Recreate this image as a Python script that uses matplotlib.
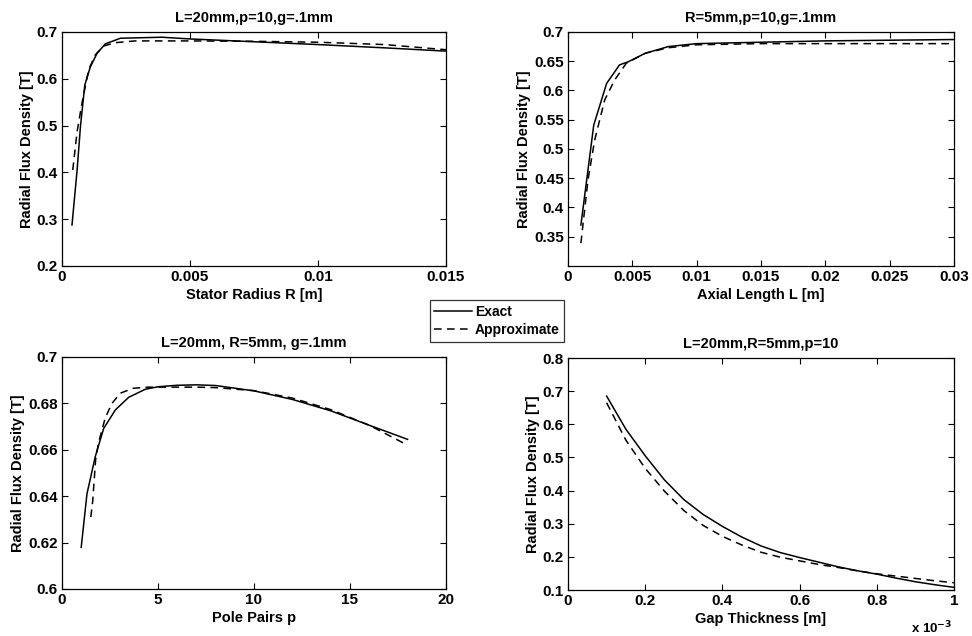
import matplotlib
matplotlib.use("Agg")
import matplotlib.pyplot as plt
from matplotlib.ticker import FuncFormatter

plt.rcParams["font.family"] = ["Liberation Sans", "DejaVu Sans"]
plt.rcParams["font.weight"] = "bold"

# ── Stator radius sweep (L=20mm, p=10, g=.1mm) ───────────────────────────────
r_exact = [0.00039, 0.00059, 0.00072, 0.00089, 0.00111, 0.00137, 0.00169,
           0.00228, 0.0039, 0.005, 0.0075, 0.01, 0.0126, 0.015]
b_r_exact = [0.2876, 0.405, 0.4977, 0.5868, 0.6259, 0.6544, 0.6744,
             0.6865, 0.6887, 0.685, 0.679, 0.673, 0.666, 0.659]
r_approx = [0.00042, 0.00059, 0.00078, 0.00104, 0.0013, 0.00163, 0.00208,
            0.00286, 0.005, 0.0075, 0.01, 0.0126, 0.015]
b_r_approx = [0.405, 0.487, 0.548, 0.619, 0.651, 0.670, 0.677,
              0.6808, 0.6808, 0.680, 0.678, 0.673, 0.662]

# ── Axial length sweep (R=5mm, p=10, g=.1mm) ─────────────────────────────────
l_exact = [0.001, 0.002, 0.003, 0.004, 0.0047, 0.006, 0.0078, 0.01, 0.015,
           0.02, 0.03]
b_l_exact = [0.370, 0.541, 0.612, 0.6436, 0.6492, 0.6635, 0.675, 0.680,
             0.6824, 0.6847, 0.687]
l_approx = [0.001, 0.00155, 0.00207, 0.00285, 0.00363, 0.00453, 0.006,
            0.0078, 0.01, 0.015, 0.02, 0.03]
b_l_approx = [0.339, 0.447, 0.515, 0.5838, 0.618, 0.6465, 0.6635, 0.673,
              0.678, 0.680, 0.680, 0.680]

# ── Pole pairs sweep (L=20mm, R=5mm, g=.1mm) ─────────────────────────────────
p_exact = [1, 1.3, 1.73, 2.17, 2.78, 3.47, 4.34, 5.03, 6, 7, 8, 10, 12, 14,
           16, 18]
b_p_exact = [0.618, 0.641, 0.657, 0.6692, 0.6772, 0.6826, 0.6861, 0.6872,
             0.6878, 0.688, 0.6877, 0.6854, 0.6817, 0.6768, 0.6706, 0.6645]
p_approx = [1.5, 1.6, 1.75, 1.9, 2.25, 2.6, 3.04, 3.7, 4.5, 5, 6, 7, 8, 10,
            12, 14, 16, 18]
b_p_approx = [0.631, 0.638, 0.6556, 0.663, 0.6737, 0.680, 0.6844, 0.6865,
              0.687, 0.687, 0.687, 0.687, 0.6868, 0.6855, 0.6823, 0.6773,
              0.6706, 0.662]

# ── Gap thickness sweep (L=20mm, R=5mm, p=10) ────────────────────────────────
g_vals = [0.1e-3, 0.15e-3, 0.2e-3, 0.25e-3, 0.3e-3, 0.35e-3, 0.4e-3, 0.45e-3,
          0.5e-3, 0.55e-3, 0.6e-3, 0.65e-3, 0.7e-3, 0.75e-3, 0.8e-3, 0.85e-3,
          0.9e-3, 0.95e-3, 1.0e-3]
b_g_exact = [0.685, 0.585, 0.505, 0.432, 0.373, 0.328, 0.292, 0.260, 0.233,
             0.213, 0.198, 0.184, 0.17, 0.158, 0.148, 0.136, 0.125, 0.116, 0.108]
b_g_approx = [0.665, 0.552, 0.467, 0.398, 0.34, 0.295, 0.262, 0.236, 0.214,
              0.199, 0.188, 0.177, 0.168, 0.158, 0.149, 0.142, 0.135, 0.128, 0.122]

titles = ["L=20mm,p=10,g=.1mm", "R=5mm,p=10,g=.1mm",
          "L=20mm, R=5mm, g=.1mm", "L=20mm,R=5mm,p=10"]
xlabels = ["Stator Radius R [m]", "Axial Length L [m]",
           "Pole Pairs p", "Gap Thickness [m]"]
ylabel = "Radial Flux Density [T]"

fig = plt.figure(figsize=(9.72, 6.36), dpi=100)
positions = [
    [0.0638, 0.5818, 0.395, 0.368],
    [0.5844, 0.5818, 0.397, 0.368],
    [0.0638, 0.0739, 0.395, 0.3648],
    [0.5844, 0.0723, 0.397, 0.3648],
]
axes = [fig.add_axes(p) for p in positions]

dash = (0, (5, 3.5))
lw = 1.1
fmt = FuncFormatter(lambda v, pos: f"{v:g}")

ax = axes[0]
ax.plot(r_exact, b_r_exact, color="black", lw=lw, label="Exact")
ax.plot(r_approx, b_r_approx, color="black", lw=lw, linestyle=dash, label="Approximate")
ax.set_xlim(0, 0.015)
ax.set_ylim(0.2, 0.7)
ax.set_xticks([0, 0.005, 0.01, 0.015])
ax.set_yticks([0.2, 0.3, 0.4, 0.5, 0.6, 0.7])

ax = axes[1]
ax.plot(l_exact, b_l_exact, color="black", lw=lw)
ax.plot(l_approx, b_l_approx, color="black", lw=lw, linestyle=dash)
ax.set_xlim(0, 0.03)
ax.set_ylim(0.3, 0.7)
ax.set_xticks([0, 0.005, 0.01, 0.015, 0.02, 0.025, 0.03])
ax.set_yticks([0.35, 0.4, 0.45, 0.5, 0.55, 0.6, 0.65, 0.7])

ax = axes[2]
ax.plot(p_exact, b_p_exact, color="black", lw=lw)
ax.plot(p_approx, b_p_approx, color="black", lw=lw, linestyle=dash)
ax.set_xlim(0, 20)
ax.set_ylim(0.6, 0.7)
ax.set_xticks([0, 5, 10, 15, 20])
ax.set_yticks([0.6, 0.62, 0.64, 0.66, 0.68, 0.7])

ax = axes[3]
ax.plot(g_vals, b_g_exact, color="black", lw=lw)
ax.plot(g_vals, b_g_approx, color="black", lw=lw, linestyle=dash)
ax.set_xlim(0, 1e-3)
ax.set_ylim(0.1, 0.8)
ax.set_xticks([0, 0.2e-3, 0.4e-3, 0.6e-3, 0.8e-3, 1e-3])
ax.set_xticklabels(["0", "0.2", "0.4", "0.6", "0.8", "1"])
ax.set_yticks([0.1, 0.2, 0.3, 0.4, 0.5, 0.6, 0.7, 0.8])
ax.text(0.995, -0.165, r"x 10$^{-3}$", transform=ax.transAxes, ha="right",
        va="center", fontsize=9.5, fontweight="bold")

for i, ax in enumerate(axes):
    ax.set_title(titles[i], fontsize=10.5, fontweight="bold", pad=7)
    ax.set_xlabel(xlabels[i], fontsize=10.5, fontweight="bold", labelpad=3)
    ax.set_ylabel(ylabel, fontsize=10.5, fontweight="bold", labelpad=2)
    if i != 3:
        ax.xaxis.set_major_formatter(fmt)
    ax.yaxis.set_major_formatter(fmt)
    ax.tick_params(direction="in", top=True, right=True, length=4,
                   width=0.8, labelsize=11, pad=3)
    for lab in ax.get_xticklabels() + ax.get_yticklabels():
        lab.set_fontweight("bold")
    for s in ax.spines.values():
        s.set_linewidth(0.9)

leg = fig.legend(handles=axes[0].lines, loc="center",
                 bbox_to_anchor=(497 / 972, 1 - 321 / 636),
                 fontsize=10, frameon=True, fancybox=False, handlelength=2.7,
                 handletextpad=0.2, borderpad=0.35, labelspacing=0.3,
                 borderaxespad=0)
leg.get_frame().set_edgecolor("black")
leg.get_frame().set_linewidth(0.9)

fig.savefig("out.png", dpi=100)
